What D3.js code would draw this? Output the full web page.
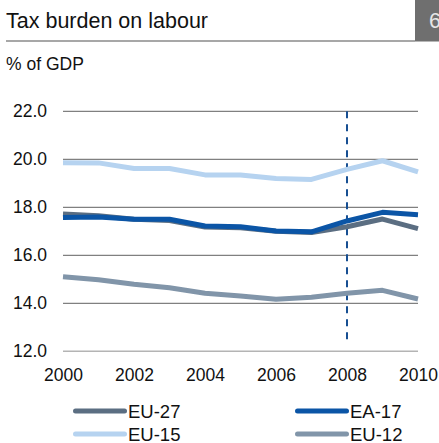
<!DOCTYPE html>
<html>
<head>
<meta charset="utf-8">
<script src="https://cdn.jsdelivr.net/npm/d3@7"></script>
<style>
  html, body { margin: 0; padding: 0; background: #fff; }
  svg { display: block; font-family: "Liberation Sans", Arial, sans-serif; }
</style>
</head>
<body>
<svg id="chart" width="439" height="443"></svg>
<script>
// Tax burden on labour, % of GDP
const years = [2000, 2001, 2002, 2003, 2004, 2005, 2006, 2007, 2008, 2009, 2010];
const eu27 = [17.72, 17.65, 17.5, 17.45, 17.18, 17.15, 17.0, 16.95, 17.19, 17.51, 17.11];
const ea17 = [17.58, 17.6, 17.5, 17.5, 17.22, 17.19, 17.01, 16.98, 17.43, 17.79, 17.69];
const eu15 = [19.86, 19.85, 19.62, 19.62, 19.35, 19.35, 19.2, 19.16, 19.58, 19.94, 19.48];
const eu12 = [15.11, 14.98, 14.79, 14.65, 14.42, 14.3, 14.17, 14.25, 14.42, 14.54, 14.18];
const yTicks = [12, 14, 16, 18, 20, 22];
const xTicks = [2000, 2002, 2004, 2006, 2008, 2010];
const markerYear = 2008;

const series = [
  { name: "EU-12", values: eu12, color: "#8195a9" },
  { name: "EU-15", values: eu15, color: "#b6d3f0" },
  { name: "EU-27", values: eu27, color: "#5b6e82" },
  { name: "EA-17", values: ea17, color: "#0b55a6" }
];
const legendItems = [
  { name: "EU-27", color: "#5b6e82", col: 0, row: 0 },
  { name: "EA-17", color: "#0b55a6", col: 1, row: 0 },
  { name: "EU-15", color: "#b6d3f0", col: 0, row: 1 },
  { name: "EU-12", color: "#8195a9", col: 1, row: 1 }
];

const svg = d3.select("#chart");

// Header with page tab
svg.append("text").attr("x", 6).attr("y", 28)
  .attr("font-size", 21.5).attr("fill", "#111").text("Tax burden on labour");
svg.append("line").attr("x1", 6).attr("x2", 415).attr("y1", 41).attr("y2", 41)
  .attr("stroke", "#8a8a8a").attr("stroke-width", 1.5);
svg.append("rect").attr("x", 415).attr("y", 0).attr("width", 24).attr("height", 41.5)
  .attr("fill", "#6f6f6f");
svg.append("text").attr("x", 429).attr("y", 28)
  .attr("font-size", 21.5).attr("fill", "#e6e6e6").text("6");

svg.append("text").attr("x", 6).attr("y", 70)
  .attr("font-size", 17.5).attr("fill", "#111").text("% of GDP");

// Scales
const x = d3.scaleLinear().domain([2000, 2010]).range([63, 418]);
const y = d3.scaleLinear().domain([12, 22]).range([351.3, 111.3]);

// Gridlines
svg.append("g").selectAll("line").data(yTicks).join("line")
  .attr("x1", x(2000)).attr("x2", x(2010))
  .attr("y1", d => y(d)).attr("y2", d => y(d))
  .attr("stroke", d => d === 12 ? "#b4b4b4" : "#808080")
  .attr("stroke-width", d => d === 12 ? 1.6 : 1.2);

// Y axis labels
const yAxis = d3.axisLeft(y).tickValues(yTicks).tickFormat(d3.format(".1f"))
  .tickSize(0).tickPadding(0);
const gy = svg.append("g").attr("transform", "translate(47,0)").call(yAxis);
gy.select(".domain").remove();
gy.selectAll("text").attr("font-size", 17.5).attr("fill", "#111")
  .attr("font-family", "Liberation Sans, Arial, sans-serif");

// X axis labels
const xAxis = d3.axisBottom(x).tickValues(xTicks).tickFormat(d3.format("d"))
  .tickSize(0).tickPadding(0);
const gx = svg.append("g").attr("transform", "translate(0,368.5)").call(xAxis);
gx.select(".domain").remove();
gx.selectAll("text").attr("font-size", 17.5).attr("fill", "#111")
  .attr("font-family", "Liberation Sans, Arial, sans-serif");

// Marker for 2008
svg.append("line")
  .attr("x1", x(markerYear)).attr("x2", x(markerYear))
  .attr("y1", y(22)).attr("y2", 343)
  .attr("stroke", "#174f92").attr("stroke-width", 2)
  .attr("stroke-dasharray", "7,6");

// Series lines
const line = d3.line().x((d, i) => x(years[i])).y(d => y(d));
svg.append("g").selectAll("path").data(series).join("path")
  .attr("d", d => line(d.values))
  .attr("fill", "none")
  .attr("stroke", d => d.color)
  .attr("stroke-width", 5)
  .attr("stroke-linejoin", "round");

// Legend
const lg = svg.append("g");
const colX = [73, 295];
const rowY = [411, 434];
const item = lg.selectAll("g").data(legendItems).join("g")
  .attr("transform", d => `translate(${colX[d.col]},${rowY[d.row]})`);
item.append("line").attr("x1", 2.5).attr("x2", 51.5).attr("y1", 0).attr("y2", 0)
  .attr("stroke", d => d.color).attr("stroke-width", 5).attr("stroke-linecap", "round");
item.append("text").attr("x", 55).attr("y", 6.5)
  .attr("font-size", 18.5).attr("fill", "#111").text(d => d.name);
</script>
</body>
</html>
